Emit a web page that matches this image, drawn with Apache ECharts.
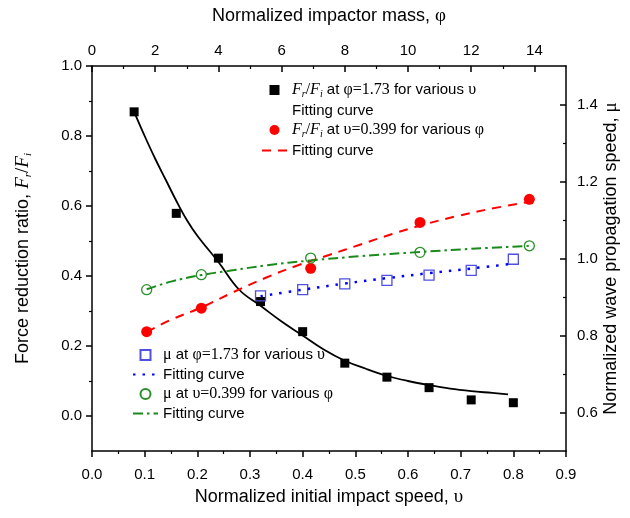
<!DOCTYPE html>
<html>
<head>
<meta charset="utf-8">
<script src="https://cdn.jsdelivr.net/npm/echarts@6/dist/echarts.min.js"></script>
<style>
  html, body { margin: 0; padding: 0; background: #fff; }
  #chart { width: 630px; height: 518px; }
</style>
</head>
<body>
<div id="chart"></div>
<script>
// F_r/F_i at phi=1.73 for various speed (bottom axis, left axis)
const speed = [0.08, 0.16, 0.24, 0.32, 0.40, 0.48, 0.56, 0.64, 0.72, 0.80];
const ratioBySpeed = [0.869, 0.579, 0.451, 0.327, 0.241, 0.151, 0.111, 0.081, 0.046, 0.038];
const speedFit = [0.08, 0.10, 0.12, 0.14, 0.16, 0.18, 0.20, 0.24, 0.28, 0.32, 0.36, 0.40, 0.44, 0.48, 0.52, 0.56, 0.60, 0.64, 0.68, 0.72, 0.76, 0.79];
const ratioSpeedFit = [0.869, 0.80, 0.735, 0.675, 0.615, 0.56, 0.515, 0.44, 0.36, 0.315, 0.27, 0.23, 0.19, 0.158, 0.135, 0.115, 0.10, 0.088, 0.078, 0.071, 0.066, 0.062];

// F_r/F_i at speed=0.399 for various phi (top axis, left axis)
const mass = [1.73, 3.46, 6.92, 10.38, 13.84];
const ratioByMass = [0.241, 0.308, 0.422, 0.553, 0.619];
const massFit = [1.73, 2.5, 3.46, 4.5, 5.5, 6.5, 7.5, 8.5, 9.5, 10.5, 11.5, 12.5, 13.84];
const ratioMassFit = [0.24, 0.275, 0.31, 0.355, 0.395, 0.43, 0.46, 0.49, 0.52, 0.547, 0.57, 0.59, 0.612];

// mu at phi=1.73 for various speed (bottom axis, right axis)
const speedMu = [0.32, 0.40, 0.48, 0.56, 0.64, 0.72, 0.80];
const muBySpeed = [0.903, 0.919, 0.934, 0.943, 0.957, 0.969, 0.998];
const speedMuFit = [0.32, 0.40, 0.48, 0.56, 0.64, 0.72, 0.79];
const muSpeedFit = [0.902, 0.919, 0.935, 0.949, 0.962, 0.974, 0.985];

// mu at speed=0.399 for various phi (top axis, right axis)
const muByMass = [0.919, 0.958, 1.001, 1.016, 1.033];
const massMuFit = [1.73, 2.5, 3.46, 4.5, 5.5, 6.92, 8.5, 10.38, 12, 13.84];
const muMassFit = [0.92, 0.94, 0.957, 0.97, 0.982, 0.995, 1.006, 1.017, 1.025, 1.033];

// tick values
const massMajor = [0, 2, 4, 6, 8, 10, 12, 14];
const massMinor = [1, 3, 5, 7, 9, 11, 13];
const ratioMajor = [0, 0.2, 0.4, 0.6, 0.8, 1.0];
const ratioMinor = [0.1, 0.3, 0.5, 0.7, 0.9];
const muMajor = [0.6, 0.8, 1.0, 1.2, 1.4];
const muMinor = [0.7, 0.9, 1.1, 1.3];

const sans = 'Liberation Sans, Arial, sans-serif';
const serif = 'Liberation Serif, Times New Roman, serif';
const squareIcon = 'path://M0,0L10,0L10,10L0,10Z';

const pairs = (xs, ys) => xs.map((x, i) => [x, ys[i]]);

const rich = {
    t: { fontFamily: sans, fontSize: 15, color: '#000', lineHeight: 18 },
    i: { fontFamily: serif, fontStyle: 'italic', fontSize: 16, color: '#000', lineHeight: 18 },
    s: { fontFamily: serif, fontStyle: 'italic', fontSize: 10, color: '#000', verticalAlign: 'bottom', lineHeight: 12 },
    g: { fontFamily: serif, fontSize: 16, color: '#000', lineHeight: 18 }
};

const legendText = {
    sqRatio: '{i|F}{s|r}{g|/}{i|F}{s|i}{t| at }{g|φ=1.73}{t| for various }{g|υ}',
    fitRatioSpeed: '{t|Fitting curve}',
    dotRatio: '{i|F}{s|r}{g|/}{i|F}{s|i}{t| at }{g|υ=0.399}{t| for various }{g|φ}',
    fitRatioMass: '{t|Fitting curve}',
    sqMu: '{g|μ}{t| at }{g|φ=1.73}{t| for various }{g|υ}',
    fitMuSpeed: '{t|Fitting curve}',
    dotMu: '{g|μ}{t| at }{g|υ=0.399}{t| for various }{g|φ}',
    fitMuMass: '{t|Fitting curve}'
};

const labelStyle = { fontFamily: sans, fontSize: 15, color: '#000' };
const lineStyle = { color: '#000', width: 1.5 };
const minorStyle = { color: '#000', width: 1.2 };
const hideDot = { opacity: 0 };

const chart = echarts.init(document.getElementById('chart'), null, { renderer: 'canvas' });

chart.setOption({
    animation: false,
    backgroundColor: '#fff',
    grid: { left: 92, right: 64, top: 66, bottom: 67, containLabel: false, outerBoundsMode: 'none' },
    legend: [{
        orient: 'vertical',
        left: 256,
        top: 77,
        itemWidth: 25,
        itemHeight: 10,
        itemGap: 4,
        formatter: name => legendText[name],
        textStyle: { rich: rich },
        data: [
            { name: 'sqRatio', icon: squareIcon },
            { name: 'fitRatioSpeed', itemStyle: hideDot, lineStyle: { opacity: 0 } },
            { name: 'dotRatio', icon: 'circle' },
            { name: 'fitRatioMass', itemStyle: hideDot }
        ]
    }, {
        orient: 'vertical',
        left: 127,
        top: 342,
        itemWidth: 25,
        itemHeight: 10,
        itemGap: 4,
        formatter: name => legendText[name],
        textStyle: { rich: rich },
        data: [
            { name: 'sqMu', icon: squareIcon },
            { name: 'fitMuSpeed', itemStyle: hideDot },
            { name: 'dotMu', icon: 'circle' },
            { name: 'fitMuMass', itemStyle: hideDot }
        ]
    }],
    xAxis: [{
        type: 'value',
        position: 'bottom',
        min: 0,
        max: 0.9,
        interval: 0.1,
        name: 'Normalized initial impact speed, {g|υ}',
        nameLocation: 'middle',
        nameGap: 37,
        nameTextStyle: {
            fontFamily: sans, fontSize: 18, color: '#000',
            rich: { g: { fontFamily: serif, fontSize: 19, color: '#000' } }
        },
        axisLine: { onZero: false, lineStyle: lineStyle },
        axisTick: { inside: false, length: 6, lineStyle: lineStyle },
        minorTick: { show: true, splitNumber: 2, length: 3, lineStyle: minorStyle },
        axisLabel: { margin: 16, formatter: v => v.toFixed(1), ...labelStyle },
        splitLine: { show: false }
    }, {
        type: 'value',
        position: 'top',
        min: 0,
        max: 15,
        name: 'Normalized impactor mass, {g|φ}',
        nameLocation: 'middle',
        nameGap: 40,
        nameTextStyle: {
            fontFamily: sans, fontSize: 18, color: '#000',
            rich: { g: { fontFamily: serif, fontSize: 19, color: '#000' } }
        },
        axisLine: { onZero: false, lineStyle: lineStyle },
        axisTick: { inside: true, length: 6, customValues: massMajor, lineStyle: lineStyle },
        axisLabel: { margin: 8, customValues: massMajor, ...labelStyle },
        splitLine: { show: false }
    }, {
        // minor ticks of the top axis
        type: 'value',
        position: 'top',
        offset: 0,
        min: 0,
        max: 15,
        axisLine: { show: false, onZero: false },
        axisTick: { inside: true, length: 3, customValues: massMinor, lineStyle: minorStyle },
        axisLabel: { show: false },
        splitLine: { show: false }
    }],
    yAxis: [{
        type: 'value',
        position: 'left',
        min: -0.1,
        max: 1.0,
        name: 'Force reduction ratio, {i|F}{s|r}{g|/}{i|F}{s|i}',
        nameLocation: 'middle',
        nameGap: 58,
        nameTextStyle: {
            fontFamily: sans, fontSize: 18, color: '#000',
            rich: {
                i: { fontFamily: serif, fontStyle: 'italic', fontSize: 19, color: '#000', lineHeight: 22 },
                s: { fontFamily: serif, fontStyle: 'italic', fontSize: 11, color: '#000', verticalAlign: 'bottom', lineHeight: 14 },
                g: { fontFamily: serif, fontSize: 19, color: '#000', lineHeight: 22 }
            }
        },
        axisLine: { onZero: false, lineStyle: lineStyle },
        axisTick: { inside: false, length: 6, customValues: ratioMajor, lineStyle: lineStyle },
        axisLabel: { margin: 10, customValues: ratioMajor, formatter: v => v.toFixed(1), ...labelStyle },
        splitLine: { show: false }
    }, {
        type: 'value',
        position: 'right',
        min: 0.5,
        max: 1.5,
        name: 'Normalized wave propagation speed, {g|μ}',
        nameLocation: 'middle',
        nameGap: 36,
        nameRotate: 90,
        nameMoveOverlap: false,
        nameTextStyle: {
            fontFamily: sans, fontSize: 18, color: '#000',
            rich: { g: { fontFamily: serif, fontSize: 19, color: '#000' } }
        },
        axisLine: { onZero: false, lineStyle: lineStyle },
        axisTick: { inside: true, length: 6, customValues: muMajor, lineStyle: lineStyle },
        axisLabel: { margin: 11, customValues: muMajor, formatter: v => v.toFixed(1), ...labelStyle },
        splitLine: { show: false }
    }, {
        // minor ticks of the left axis
        type: 'value',
        position: 'left',
        offset: 0,
        min: -0.1,
        max: 1.0,
        axisLine: { show: false, onZero: false },
        axisTick: { inside: false, length: 3, customValues: ratioMinor, lineStyle: minorStyle },
        axisLabel: { show: false },
        splitLine: { show: false }
    }, {
        // minor ticks of the right axis
        type: 'value',
        position: 'right',
        offset: 0,
        min: 0.5,
        max: 1.5,
        axisLine: { show: false, onZero: false },
        axisTick: { inside: true, length: 3, customValues: muMinor, lineStyle: minorStyle },
        axisLabel: { show: false },
        splitLine: { show: false }
    }],
    series: [{
        name: 'fitRatioSpeed',
        type: 'line',
        xAxisIndex: 0,
        yAxisIndex: 0,
        data: pairs(speedFit, ratioSpeedFit),
        smooth: 0.4,
        symbol: 'none',
        lineStyle: { color: '#000', width: 1.8 },
        itemStyle: { color: '#000' }
    }, {
        name: 'sqRatio',
        type: 'scatter',
        xAxisIndex: 0,
        yAxisIndex: 0,
        data: pairs(speed, ratioBySpeed),
        symbol: 'rect',
        symbolSize: 9,
        itemStyle: { color: '#000', opacity: 1 }
    }, {
        name: 'fitRatioMass',
        type: 'line',
        xAxisIndex: 1,
        yAxisIndex: 0,
        data: pairs(massFit, ratioMassFit),
        smooth: 0.4,
        symbol: 'none',
        lineStyle: { color: '#ff0000', width: 2, type: [9, 7] },
        itemStyle: { color: '#ff0000' }
    }, {
        name: 'dotRatio',
        type: 'scatter',
        xAxisIndex: 1,
        yAxisIndex: 0,
        data: pairs(mass, ratioByMass),
        symbol: 'circle',
        symbolSize: 11,
        itemStyle: { color: '#ff0000', opacity: 1 }
    }, {
        name: 'fitMuSpeed',
        type: 'line',
        xAxisIndex: 0,
        yAxisIndex: 1,
        data: pairs(speedMuFit, muSpeedFit),
        smooth: 0.4,
        symbol: 'none',
        lineStyle: { color: '#0000ff', width: 2.5, type: [2.5, 7] },
        itemStyle: { color: '#0000ff' }
    }, {
        name: 'sqMu',
        type: 'scatter',
        xAxisIndex: 0,
        yAxisIndex: 1,
        data: pairs(speedMu, muBySpeed),
        symbol: 'rect',
        symbolSize: 10,
        itemStyle: { color: 'rgba(255,255,255,0)', borderColor: '#5050e0', borderWidth: 1.3, opacity: 1 }
    }, {
        name: 'fitMuMass',
        type: 'line',
        xAxisIndex: 1,
        yAxisIndex: 1,
        data: pairs(massMuFit, muMassFit),
        smooth: 0.4,
        symbol: 'none',
        lineStyle: { color: '#1a8a1a', width: 2, type: [10, 4, 2.5, 4] },
        itemStyle: { color: '#1a8a1a' }
    }, {
        name: 'dotMu',
        type: 'scatter',
        xAxisIndex: 1,
        yAxisIndex: 1,
        data: pairs(mass, muByMass),
        symbol: 'circle',
        symbolSize: 10,
        itemStyle: { color: 'rgba(255,255,255,0)', borderColor: '#2a8f2a', borderWidth: 1.3, opacity: 1 }
    }]
});
</script>
</body>
</html>
